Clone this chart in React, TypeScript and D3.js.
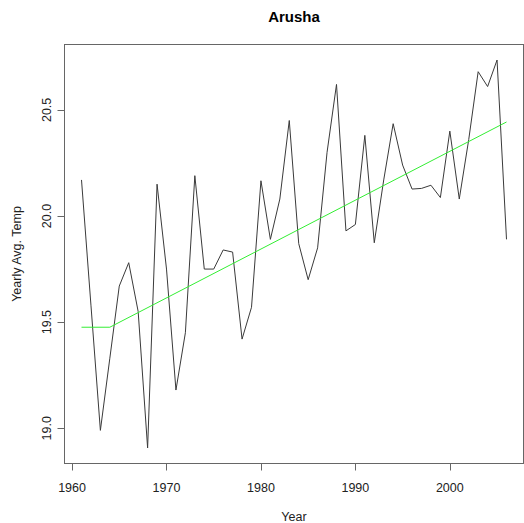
import React from 'react';
import * as d3 from 'd3';

// yearly average temperature
const years = d3.range(1961, 2007);
const temps = [
  20.17, 19.58, 18.99, 19.33, 19.67, 19.78, 19.55, 18.907, 20.15, 19.75,
  19.18, 19.45, 20.19, 19.75, 19.75, 19.84, 19.83, 19.42, 19.57, 20.166,
  19.89, 20.08, 20.45, 19.87, 19.7, 19.85, 20.3, 20.62, 19.93, 19.96,
  20.38, 19.874, 20.17, 20.435, 20.24, 20.127, 20.13, 20.145, 20.087, 20.4,
  20.08, 20.36, 20.68, 20.61, 20.735, 19.89,
];

// fitted trend (green)
const trendYears = [1961, 1964, 2006];
const trendValues = [19.476, 19.476, 20.443];

const xTicks = [1960, 1970, 1980, 1990, 2000];
const yTicks = [19.0, 19.5, 20.0, 20.5];

const title = 'Arusha';
const xLabel = 'Year';
const yLabel = 'Yearly Avg. Temp';

const W = 524;
const H = 523;
const box = { left: 64.5, top: 44.5, right: 523.5, bottom: 463.5 };
const font = '"Liberation Sans", Arial, sans-serif';

export default function App() {
  // R style: pad the data range by 4% on each side
  const [x0, x1] = d3.extent(years) as [number, number];
  const xPad = (x1 - x0) * 0.04;
  const x = d3.scaleLinear().domain([x0 - xPad, x1 + xPad]).range([box.left, box.right]);

  const [y0, y1] = d3.extent(temps) as [number, number];
  const yPad = (y1 - y0) * 0.04;
  const y = d3.scaleLinear().domain([y0 - yPad, y1 + yPad]).range([box.bottom, box.top]);

  const line = d3.line<number>().x((d, i) => x(years[i])).y((d) => y(d));
  const trend = d3.line<number>().x((d, i) => x(trendYears[i])).y((d) => y(d));

  const ink = '#3a3a3a';

  return (
    <svg width={W} height={H} style={{ position: 'absolute', left: 0, top: 0, background: '#fff' }}>
      <text x={(box.left + box.right) / 2} y={21.5} textAnchor="middle"
        fontFamily={font} fontWeight="bold" fontSize={15} fill="#000">{title}</text>

      <path d={line(temps) || ''} fill="none" stroke={ink} strokeWidth={1} />
      <path d={trend(trendValues) || ''} fill="none" stroke="#33ee33" strokeWidth={1} />

      <rect x={box.left} y={box.top} width={box.right - box.left} height={box.bottom - box.top}
        fill="none" stroke="#666" strokeWidth={1} />

      {/* x axis */}
      <line x1={x(xTicks[0])} x2={x(xTicks[xTicks.length - 1])} y1={box.bottom} y2={box.bottom} stroke="#666" />
      {xTicks.map((t) => (
        <g key={t}>
          <line x1={Math.round(x(t)) + 0.5} x2={Math.round(x(t)) + 0.5} y1={box.bottom} y2={box.bottom + 7} stroke="#666" />
          <text x={x(t)} y={491.5} textAnchor="middle" fontFamily={font} fontSize={12.5} fill="#222">{t}</text>
        </g>
      ))}
      <text x={(box.left + box.right) / 2} y={520.5} textAnchor="middle" fontFamily={font} fontSize={12.5} fill="#222">{xLabel}</text>

      {/* y axis */}
      {yTicks.map((t) => (
        <g key={t}>
          <line x1={box.left - 7} x2={box.left} y1={Math.round(y(t)) + 0.5} y2={Math.round(y(t)) + 0.5} stroke="#666" />
          <text transform={`translate(51,${y(t)}) rotate(-90)`} textAnchor="middle"
            fontFamily={font} fontSize={12.5} fill="#222">{t.toFixed(1)}</text>
        </g>
      ))}
      <text transform={`translate(21,${(box.top + box.bottom) / 2}) rotate(-90)`} textAnchor="middle"
        fontFamily={font} fontSize={12.5} fill="#222">{yLabel}</text>
    </svg>
  );
}
